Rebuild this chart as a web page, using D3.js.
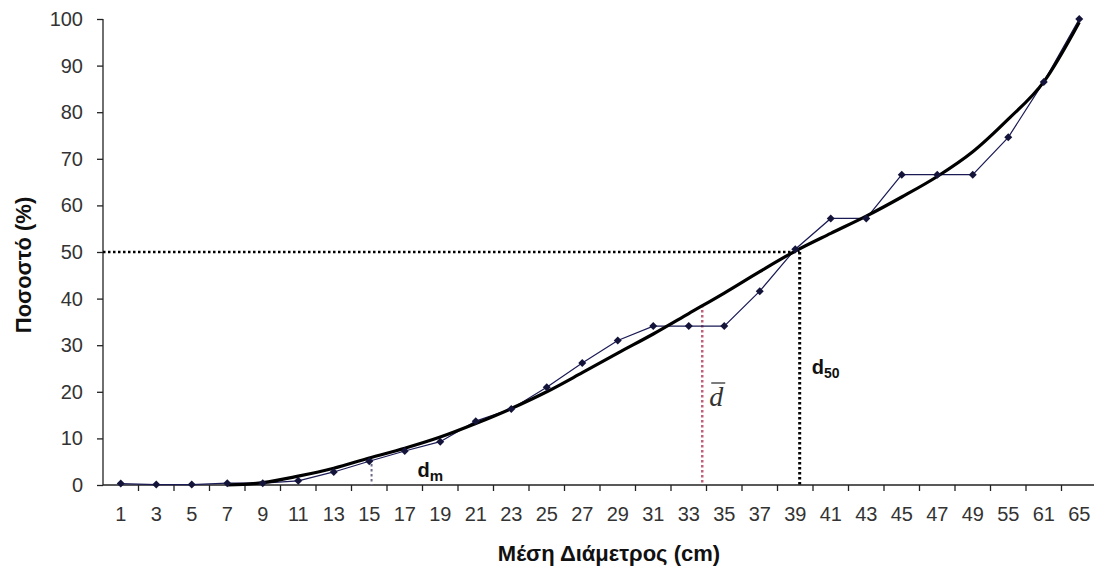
<!doctype html>
<html lang=el>

<head>
  <meta charset=utf-8>
  <title>Ποσοστό</title>
  <style>
    body { margin: 0; background: #fff; }
    svg { display: block; font-family: "Liberation Sans", Arial, sans-serif; }
  </style>
</head>

<body>
  <svg></svg>
  <script src="https://d3js.org/d3.v7.min.js"></script>
  <script>
    var width = 1094;
    var height = 567;

    // diameter classes (category axis)
    var diameters = [1, 3, 5, 7, 9, 11, 13, 15, 17, 19, 21, 23, 25, 27, 29, 31, 33, 35, 37, 39, 41, 43, 45, 47, 49, 55, 61, 65];
    // cumulative percentage per class
    var percent = [0.3, 0.1, 0.1, 0.4, 0.4, 0.9, 2.8, 5.1, 7.3, 9.3, 13.7, 16.3, 21, 26.2, 31, 34.1, 34.1, 34.1, 41.6, 50.6, 57.2, 57.2, 66.6, 66.6, 66.6, 74.6, 86.5, 100];
    // smooth trend curve
    var trendDiam = [7, 9, 11, 13, 15, 17, 19, 21, 23, 25, 27, 29, 31, 33, 35, 37, 39, 41, 43, 45, 47, 49, 55, 61, 65];
    var trendValues = [0, 0.5, 1.9, 3.6, 5.8, 7.9, 10.3, 13.2, 16.4, 20, 24.1, 28.3, 32.4, 36.8, 41.2, 45.8, 50.2, 54, 57.7, 61.8, 66.2, 71.5, 78.5, 86.5, 99.3];
    var yTicks = [0, 10, 20, 30, 40, 50, 60, 70, 80, 90, 100];

    // d_m, mean diameter and d50 markers
    var refNames = ["dm", "dbar", "d50"];
    var refAt = [15.13, 33.76, 39.25];
    var refTop = [5.6, 38.6, 50];

    var svg = d3.select("svg")
      .attr("width", width)
      .attr("height", height);

    var x = d3.scaleBand()
      .domain(diameters)
      .range([103, 1097])
      .padding(0);

    var y = d3.scaleLinear()
      .domain([0, 100])
      .range([485, 19]);

    function cx(d) { return x(d) + x.bandwidth() / 2; }

    // position of a real-valued diameter between two category centres
    function xPos(v) {
      for (var i = 0; i < diameters.length - 1; i++) {
        if (v >= diameters[i] && v <= diameters[i + 1]) {
          var t = (v - diameters[i]) / (diameters[i + 1] - diameters[i]);
          return cx(diameters[i]) + t * (cx(diameters[i + 1]) - cx(diameters[i]));
        }
      }
      return cx(diameters[0]);
    }

    // y axis
    var yAxis = svg.append("g")
      .attr("transform", "translate(" + x.range()[0] + ",0)")
      .call(d3.axisLeft(y).tickValues(yTicks).tickSize(6).tickPadding(14));
    yAxis.selectAll("text").style("font-size", "20px").attr("fill", "#333");
    yAxis.select(".domain").attr("d", "M0," + y(100) + "V" + y(0)).attr("stroke", "#222").attr("stroke-width", 1.3);
    yAxis.selectAll("line").attr("stroke", "#222").attr("stroke-width", 1.3);

    // x axis, ticks between categories
    var xAxis = svg.append("g")
      .attr("transform", "translate(0," + y(0) + ")")
      .call(d3.axisBottom(x).tickSize(0).tickPadding(22));
    xAxis.selectAll("text").style("font-size", "20px").attr("fill", "#333");
    xAxis.select(".domain").attr("d", "M" + x.range()[0] + ",0H" + x.range()[1]).attr("stroke", "#222").attr("stroke-width", 1.3);
    xAxis.selectAll(".sep")
      .data(diameters.slice(1))
      .enter().append("line")
      .attr("x1", function (d) { return x(d); })
      .attr("x2", function (d) { return x(d); })
      .attr("y1", 0).attr("y2", 6)
      .attr("stroke", "#222").attr("stroke-width", 1.3);

    // dotted reference lines
    svg.append("line")
      .attr("x1", x.range()[0]).attr("x2", xPos(refAt[2]))
      .attr("y1", y(50)).attr("y2", y(50))
      .attr("stroke", "#000").attr("stroke-width", 2.5).attr("stroke-dasharray", "2.5,2.5");

    var refColors = ["#6a6a8a", "#c0607a", "#000"];
    var refWidths = [2, 2.5, 3];
    refNames.forEach(function (n, i) {
      svg.append("line")
        .attr("x1", xPos(refAt[i])).attr("x2", xPos(refAt[i]))
        .attr("y1", y(refTop[i])).attr("y2", y(0))
        .attr("stroke", refColors[i]).attr("stroke-width", refWidths[i])
        .attr("stroke-dasharray", "2.5,2.5");
    });

    // data series
    var line = d3.line()
      .x(function (d, i) { return cx(diameters[i]); })
      .y(function (d) { return y(d); });

    svg.append("path")
      .datum(percent)
      .attr("d", line)
      .attr("fill", "none")
      .attr("stroke", "#1a1a55")
      .attr("stroke-width", 1.2);

    // trend curve
    var trend = d3.line()
      .curve(d3.curveMonotoneX)
      .x(function (d, i) { return cx(trendDiam[i]); })
      .y(function (d) { return y(d); });

    svg.append("path")
      .datum(trendValues)
      .attr("d", trend)
      .attr("fill", "none")
      .attr("stroke", "#000")
      .attr("stroke-width", 3.2);

    svg.selectAll(".pt")
      .data(percent)
      .enter().append("path")
      .attr("class", "pt")
      .attr("d", d3.symbol().type(d3.symbolSquare).size(32))
      .attr("transform", function (d, i) { return "translate(" + cx(diameters[i]) + "," + y(d) + ") rotate(45)"; })
      .attr("fill", "#14143a");

    // labels
    var dm = svg.append("text")
      .attr("x", xPos(refAt[0]) + 46).attr("y", 477)
      .style("font-size", "20px").style("font-weight", "bold").attr("fill", "#111");
    dm.append("tspan").text("d");
    dm.append("tspan").attr("dy", 4).style("font-size", "15px").text("m");

    var d50 = svg.append("text")
      .attr("x", xPos(refAt[2]) + 12).attr("y", 374)
      .style("font-size", "20px").style("font-weight", "bold").attr("fill", "#111");
    d50.append("tspan").text("d");
    d50.append("tspan").attr("dy", 4).style("font-size", "14px").text("50");

    var dbar = svg.append("text")
      .attr("x", xPos(refAt[1]) + 7).attr("y", 406)
      .style("font-family", "'Liberation Serif', 'Times New Roman', serif")
      .style("font-style", "italic")
      .style("font-size", "28px")
      .attr("fill", "#333")
      .text("d");
    var bb = dbar.node().getBBox();
    svg.append("line")
      .attr("x1", bb.x + 2).attr("x2", bb.x + bb.width + 1)
      .attr("y1", bb.y + 2).attr("y2", bb.y + 2)
      .attr("stroke", "#333").attr("stroke-width", 1.3);

    // axis titles
    svg.append("text")
      .attr("transform", "translate(31,265) rotate(-90)")
      .attr("text-anchor", "middle")
      .style("font-size", "22px").style("font-weight", "bold").attr("fill", "#111")
      .text("Ποσοστό (%)");

    svg.append("text")
      .attr("x", 609).attr("y", 561)
      .attr("text-anchor", "middle")
      .style("font-size", "22px").style("font-weight", "bold").attr("fill", "#111")
      .text("Μέση Διάμετρος (cm)");
  </script>
</body>

</html>
